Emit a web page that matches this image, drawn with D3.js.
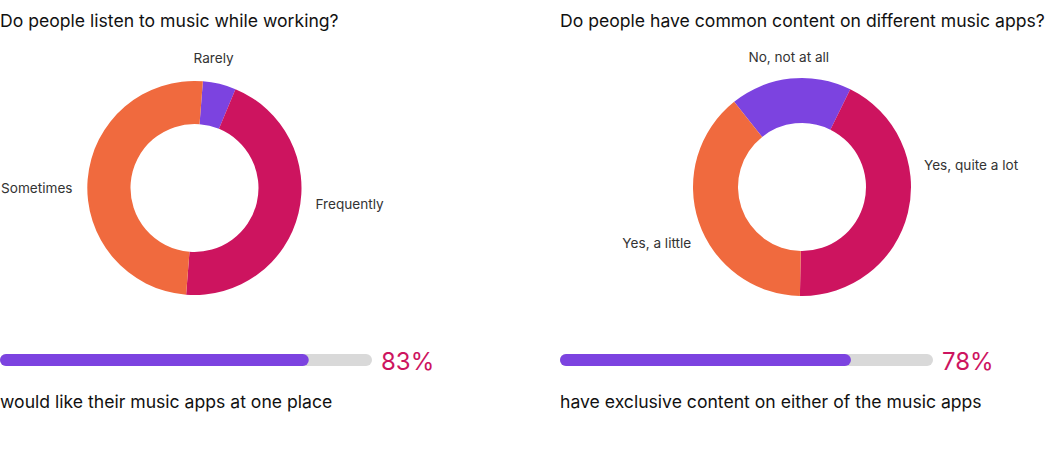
<!DOCTYPE html>
<html><head><meta charset="utf-8">
<script src="https://cdn.jsdelivr.net/npm/d3@7"></script>
<style>
body{margin:0;background:#fff}
svg{display:block;font-family:Inter, "Noto Sans", sans-serif}
</style>
</head><body>
<svg id="chart" width="1052" height="467"></svg>
<script>
// ---- data ----
const titles = ["Do people listen to music while working?", "Do people have common content on different music apps?"];
const leftCategories = ["Rarely", "Frequently", "Sometimes"];
const leftValues = [5, 45, 50];
const rightCategories = ["No, not at all", "Yes, quite a lot", "Yes, a little"];
const rightValues = [18, 43, 39];
const barValues = [83, 78];
const barCaptions = ["would like their music apps at one place", "have exclusive content on either of the music apps"];

// ---- style / layout ----
const sliceColors = ["#7c43e0", "#cd145f", "#f06a3e"];
const panels = [
  {x0: 0,   cx: 194.5, cy: 188, outer: 107, inner: 64, startDeg: 4.5,   labelShift: [-4.5, -6, -4.5], topLift: 10},
  {x0: 560, cx: 802,   cy: 187, outer: 109, inner: 64, startDeg: -38.5, labelShift: [0, -24, -8],    topLift: 7}
];
const series = [
  {cats: leftCategories, vals: leftValues},
  {cats: rightCategories, vals: rightValues}
];

const svg = d3.select("#chart");
const rad = d => d * Math.PI / 180;

panels.forEach((p, i) => {
  const g = svg.append("g");
  // title
  g.append("text").attr("x", p.x0).attr("y", 26.5)
    .attr("font-size", 17.6).attr("fill", "#111").text(titles[i]);

  // donut
  const data = series[i].cats.map((c, k) => ({cat: c, value: series[i].vals[k], k}));
  const pie = d3.pie().value(d => d.value).sort(null)
    .startAngle(rad(p.startDeg)).endAngle(rad(p.startDeg) + 2 * Math.PI);
  const arcs = pie(data);
  const arc = d3.arc().innerRadius(p.inner).outerRadius(p.outer);
  const dg = g.append("g").attr("transform", `translate(${p.cx},${p.cy})`);
  dg.selectAll("path").data(arcs).join("path")
    .attr("d", arc).attr("fill", d => sliceColors[d.data.k]);

  // labels
  const rl = p.outer + 15;
  arcs.forEach((a, k) => {
    const ang = (a.startAngle + a.endAngle) / 2 + rad(p.labelShift[k]);
    const s = Math.sin(ang), c = Math.cos(ang);
    let x = p.cx + rl * s, y = p.cy - rl * c;
    let anchor = "middle";
    if (s > 0.5) anchor = "start";
    else if (s < -0.5) anchor = "end";
    else y -= p.topLift;
    g.append("text").attr("x", x).attr("y", y)
      .attr("text-anchor", anchor).attr("dominant-baseline", "central")
      .attr("font-size", 13.6).attr("fill", "#333").text(a.data.cat);
  });

  // progress bar
  const bw = i === 0 ? 372 : 373;
  const xs = d3.scaleLinear().domain([0, 100]).range([p.x0, p.x0 + bw]);
  g.append("rect").attr("x", xs(0)).attr("y", 354).attr("width", xs(100) - xs(0)).attr("height", 12)
    .attr("rx", 6).attr("fill", "#d9d9d9");
  g.append("rect").attr("x", xs(0)).attr("y", 354).attr("width", xs(barValues[i]) - xs(0)).attr("height", 12)
    .attr("rx", 6).attr("fill", sliceColors[0]);
  g.append("text").attr("x", xs(100) + 9).attr("y", 369.5)
    .attr("font-size", 24).attr("fill", sliceColors[1]).text(barValues[i] + "%");
  g.append("text").attr("x", p.x0).attr("y", 407.5)
    .attr("font-size", 17.6).attr("fill", "#111").text(barCaptions[i]);
});
</script>
</body></html>
